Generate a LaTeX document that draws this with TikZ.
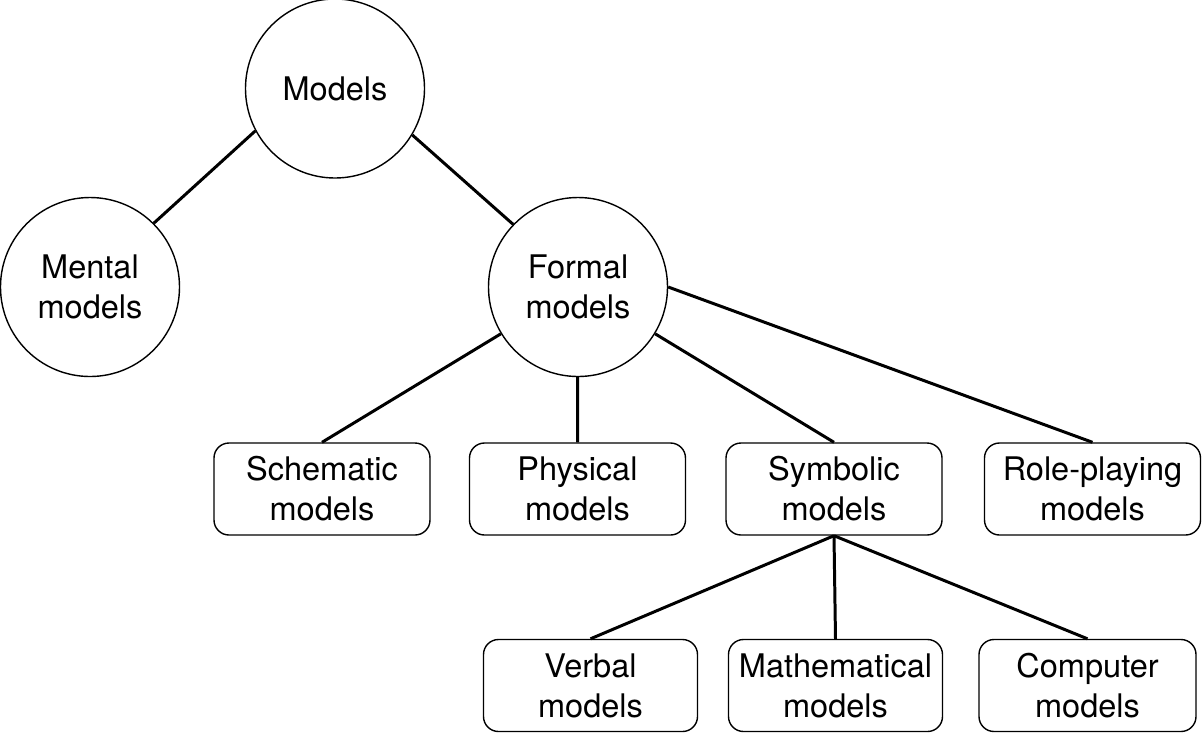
\documentclass[tikz,border=0pt]{standalone}
\usepackage{fontspec}
\setmainfont{TeX Gyre Heros}
\begin{document}
\begin{tikzpicture}[font=\fontsize{18.5}{22.8}\selectfont,
      circ/.style={circle, draw=black, line width=0.8pt, align=center,
                   minimum size=3.58cm, inner sep=0pt},
      leaf/.style={rectangle, rounded corners=0.3cm, draw=black,
                   line width=0.8pt, align=center, minimum width=4.32cm,
                   minimum height=1.84cm, inner sep=0pt},
      link/.style={line width=1.7pt, black},
    ]
    \useasboundingbox (0,0) rectangle (24.04,-14.68);

    % Top level
    \node[circ] (models) at (6.70, -1.77) {Models};
    \node[circ] (mental) at (1.80, -5.74) {Mental\\models};
    \node[circ] (formal) at (11.56, -5.74) {Formal\\models};

    % Kinds of formal models
    \node[leaf] (schematic) at (6.44, -9.78) {Schematic\\models};
    \node[leaf] (physical) at (11.55, -9.78) {Physical\\models};
    \node[leaf] (symbolic) at (16.68, -9.78) {Symbolic\\models};
    \node[leaf] (roleplay) at (21.85, -9.78) {Role-playing\\models};

    % Kinds of symbolic models
    \node[leaf, minimum width=4.28cm] (verbal) at (11.81, -13.71) {Verbal\\models};
    \node[leaf, minimum width=4.28cm] (mathematical) at (16.71, -13.71) {Mathematical\\models};
    \node[leaf, minimum width=4.34cm] (computer) at (21.75, -13.71) {Computer\\models};

    % Links
    \draw[link] (models.208) -- (mental.45);
    \draw[link] (models.329) -- (formal.136);
    \draw[link] (formal) -- (schematic.north);
    \draw[link] (formal) -- (physical.north);
    \draw[link] (formal) -- (symbolic.north);
    \draw[link] (formal.east) -- (roleplay.north);
    \draw[link] (symbolic.south) -- (verbal.north);
    \draw[link] (symbolic.south) -- (mathematical.north);
    \draw[link] (symbolic.south) -- (computer.north);
  \end{tikzpicture}
\end{document}
